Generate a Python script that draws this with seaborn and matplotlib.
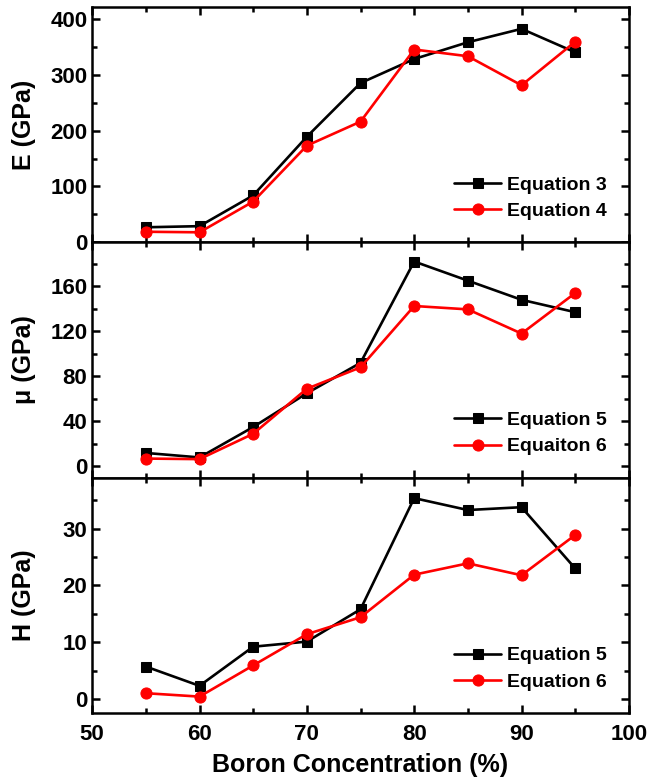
import numpy as np
import pandas as pd
import seaborn as sns
import matplotlib.pyplot as plt
from matplotlib.ticker import MultipleLocator

#### Data
boron = [55, 60, 65, 70, 75, 80, 85, 90, 95]

E_eq3 = [27, 29, 84, 189, 285, 328, 358, 382, 340]
E_eq4 = [19, 18, 73, 173, 216, 345, 333, 281, 359]

mu_eq5 = [12, 8, 35, 65, 92, 182, 165, 148, 137]
mu_eq6 = [7, 6.5, 29, 69, 88, 142.5, 139.5, 118, 154]

H_eq5 = [5.7, 2.3, 9.2, 10.1, 15.8, 35.4, 33.3, 33.8, 23.0]
H_eq6 = [1.0, 0.4, 5.9, 11.4, 14.4, 21.9, 23.9, 21.8, 28.9]

#### Style
sns.set_style("ticks")
plt.rcParams['font.family'] = ['Liberation Sans', 'DejaVu Sans']
plt.rcParams['font.weight'] = 'bold'
plt.rcParams['axes.linewidth'] = 1.8
for k in ['axes.edgecolor', 'axes.labelcolor', 'xtick.color', 'ytick.color', 'text.color']:
    plt.rcParams[k] = 'black'

f, axes = plt.subplots(3, 1, figsize=(6.49, 7.81), dpi=100, sharex=True)
f.subplots_adjust(left=0.142, right=0.969, top=0.991, bottom=0.087, hspace=0)

panels = [
    (E_eq3, E_eq4, "Equation 3", "Equation 4", "E (GPa)", (0, 421), 100, 50),
    (mu_eq5, mu_eq6, "Equation 5", "Equaiton 6", "\u03bc (GPa)", (-10, 199), 40, 20),
    (H_eq5, H_eq6, "Equation 5", "Equation 6", "H (GPa)", (-2.5, 39), 10, 5),
]

for ax, (ya, yb, la, lb, ylab, ylim, major, minor) in zip(axes, panels):
    df = pd.DataFrame({"x": boron, "a": ya, "b": yb})
    sns.lineplot(data=df, x="x", y="a", ax=ax, color="black", marker="s",
                 markersize=6.5, markeredgecolor="black", linewidth=1.9, label=la)
    sns.lineplot(data=df, x="x", y="b", ax=ax, color="red", marker="o",
                 markersize=8, markeredgecolor="red", linewidth=1.9, label=lb)
    ax.set_ylim(*ylim)
    ax.set_xlim(50, 100)
    ax.yaxis.set_major_locator(MultipleLocator(major))
    ax.yaxis.set_minor_locator(MultipleLocator(minor))
    ax.xaxis.set_major_locator(MultipleLocator(10))
    ax.xaxis.set_minor_locator(MultipleLocator(5))
    ax.tick_params(which="both", direction="in", top=True, right=True,
                   width=1.8, labelsize=16)
    ax.tick_params(which="major", length=6)
    ax.tick_params(which="minor", length=3.5)
    ax.tick_params(axis="x", pad=8)
    ax.set_ylabel(ylab, fontsize=18, fontweight="bold")
    ax.set_xlabel("")
    for lab in ax.get_yticklabels():
        lab.set_fontweight("bold")
    ax.legend(loc="lower right", frameon=False, handlelength=2.4,
              handletextpad=0.3, borderaxespad=0.75, labelspacing=0.45,
              prop={"weight": "bold", "size": 14})

axes[-1].set_xlabel("Boron Concentration (%)", fontsize=18, fontweight="bold",
                    labelpad=6)
for lab in axes[-1].get_xticklabels():
    lab.set_fontweight("bold")
for ax in axes:
    ax.yaxis.set_label_coords(-0.105, 0.5)

plt.savefig("out.png", dpi=100)
